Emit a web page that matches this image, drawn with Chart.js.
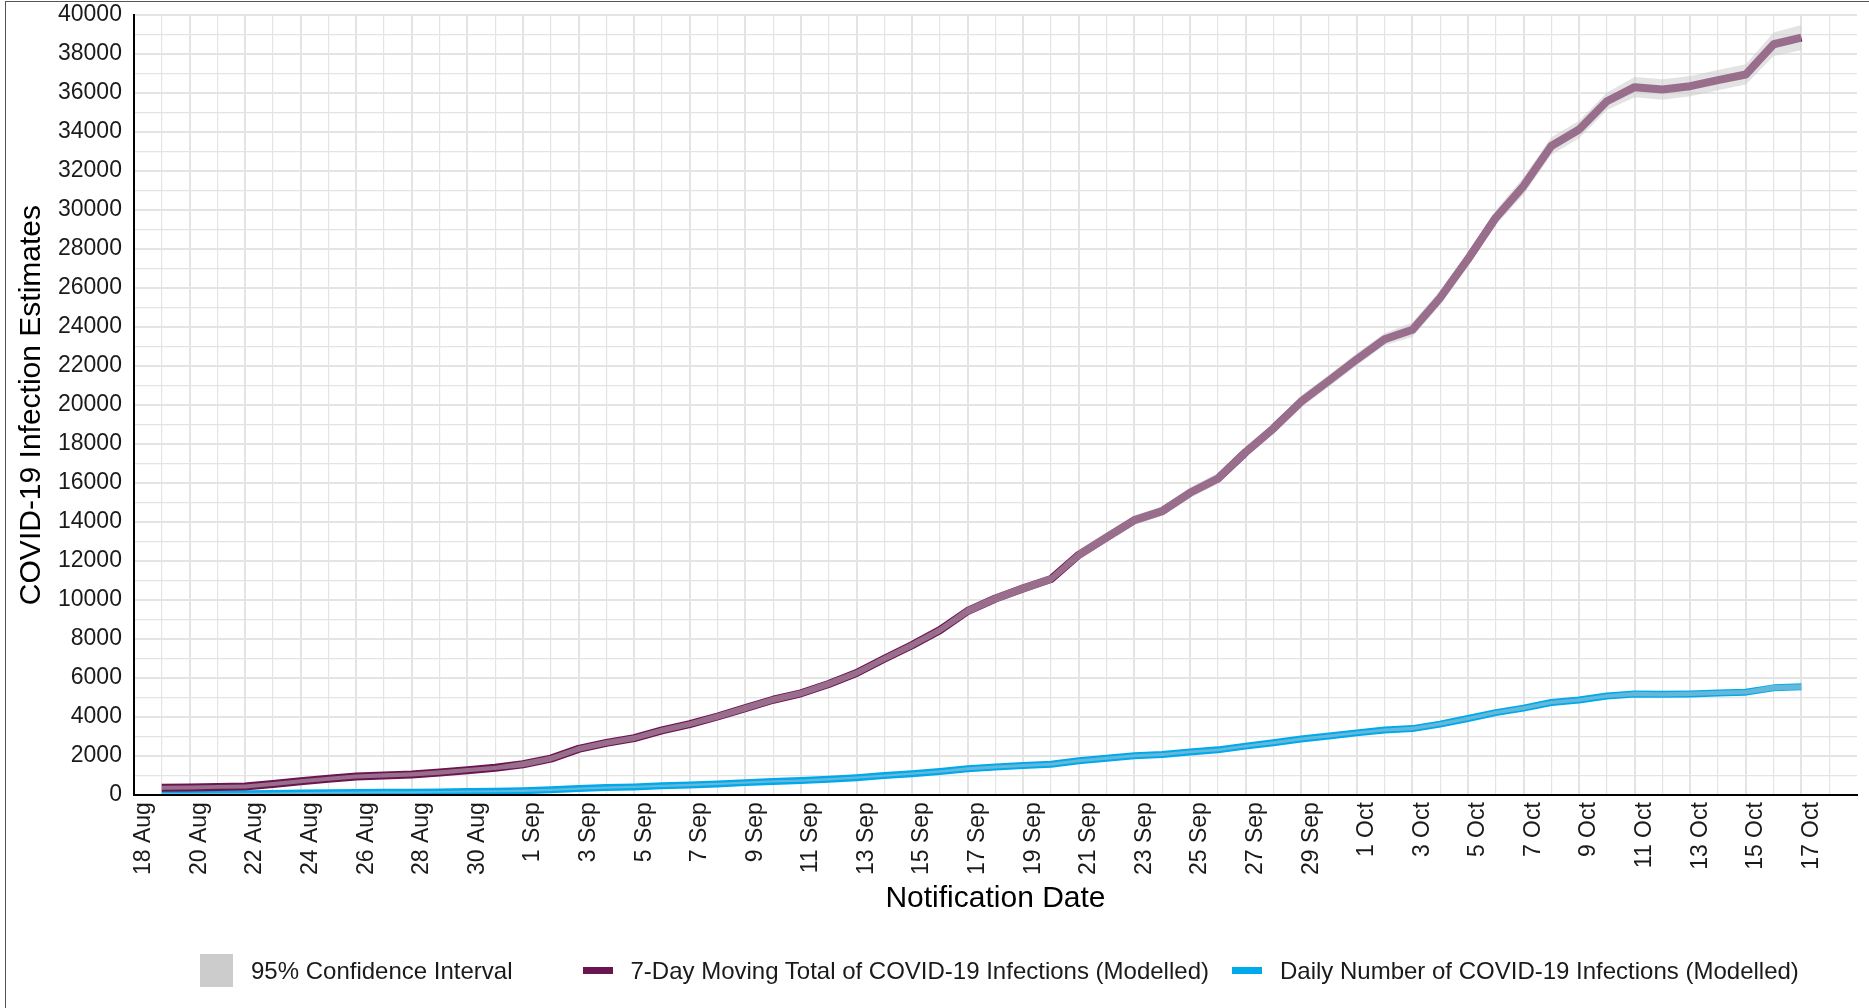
<!DOCTYPE html>
<html>
<head>
<meta charset="utf-8">
<title>COVID-19 Infection Estimates</title>
<script src="https://cdn.jsdelivr.net/npm/chart.js@4.4.1/dist/chart.umd.min.js"></script>
<style>
html, body { margin: 0; padding: 0; background: #fff; overflow: hidden; }
#wrap { position: relative; width: 1869px; height: 1008px; }
#frame { position: absolute; left: 5px; top: 1px; right: 0; bottom: 0; border-left: 1px solid #555; border-top: 1px solid #555; pointer-events: none; }
#legend { position: absolute; left: 200px; top: 954px; height: 33px; display: flex; align-items: center;
  font-family: "Liberation Sans", Arial, sans-serif; font-size: 24px; color: #1a1a1a; white-space: nowrap; }
#legend .lab { margin-left: 18px; }
</style>
</head>
<body>
<div id="wrap">
  <canvas id="infections" width="1869" height="1008"></canvas>
  <div id="frame"></div>
  <div id="legend"></div>
</div>
<script>
// x categories: one per day, 18 Aug .. 19 Oct (labels shown every 2nd day up to 17 Oct)
var dates = ['18 Aug','19 Aug','20 Aug','21 Aug','22 Aug','23 Aug','24 Aug','25 Aug','26 Aug','27 Aug','28 Aug','29 Aug','30 Aug','31 Aug',
  '1 Sep','2 Sep','3 Sep','4 Sep','5 Sep','6 Sep','7 Sep','8 Sep','9 Sep','10 Sep','11 Sep','12 Sep','13 Sep','14 Sep','15 Sep',
  '16 Sep','17 Sep','18 Sep','19 Sep','20 Sep','21 Sep','22 Sep','23 Sep','24 Sep','25 Sep','26 Sep','27 Sep','28 Sep','29 Sep','30 Sep',
  '1 Oct','2 Oct','3 Oct','4 Oct','5 Oct','6 Oct','7 Oct','8 Oct','9 Oct','10 Oct','11 Oct','12 Oct','13 Oct','14 Oct','15 Oct',
  '16 Oct','17 Oct','18 Oct','19 Oct'];
var lastLabelled = 60; // 17 Oct

// series run 19 Aug .. 17 Oct
var movingTotal = [380,390,420,440,570,710,840,950,1010,1060,1160,1280,1400,
  1580,1870,2370,2680,2920,3320,3640,4030,4460,4890,5220,5700,6260,6990,7690,
  8460,9440,10080,10600,11080,12320,13220,14100,14560,15500,16230,17580,18800,20180,21250,
  22340,23370,23860,25500,27480,29600,31230,33280,34130,35580,36300,36180,36350,36660,36950,
  38500,38840];
var movingTotalLow = [280,290,320,340,465,605,735,845,900,950,1050,1170,1290,
  1430,1720,2220,2530,2770,3170,3490,3860,4290,4720,5050,5530,6090,6820,7520,
  8290,9230,9870,10390,10870,12080,12980,13860,14320,15230,15960,17310,18530,19870,20940,
  22030,23060,23490,25130,27110,29230,30780,32830,33680,35130,35780,35660,35830,36140,36430,
  37900,38190];
var movingTotalHigh = [480,490,520,540,675,815,945,1055,1120,1170,1270,1390,1510,
  1730,2020,2520,2830,3070,3470,3790,4200,4630,5060,5390,5870,6430,7160,7860,
  8630,9650,10290,10810,11290,12560,13460,14340,14800,15770,16500,17850,19070,20490,21560,
  22650,23680,24230,25870,27850,29970,31680,33730,34580,36030,36820,36700,36870,37180,37470,
  39100,39490];

var daily = [60,60,65,70,85,105,120,135,145,150,165,185,200,
  225,270,335,385,420,475,520,575,640,700,745,815,895,1000,1100,
  1210,1350,1440,1515,1585,1760,1890,2015,2080,2215,2320,2510,2685,2880,3035,
  3190,3340,3410,3640,3925,4230,4460,4750,4880,5080,5185,5170,5190,5240,5280,
  5500,5550];
var dailyLow = [10,10,15,20,35,55,70,85,95,100,115,135,150,
  165,210,275,325,360,415,460,515,580,640,685,755,835,940,1040,
  1150,1275,1365,1440,1510,1685,1815,1940,2005,2140,2245,2435,2610,2805,2960,
  3115,3265,3320,3550,3835,4140,4370,4660,4790,4990,5075,5060,5080,5130,5170,
  5360,5410];
var dailyHigh = [110,110,115,120,135,155,170,185,195,200,215,235,250,
  285,330,395,445,480,535,580,635,700,760,805,875,955,1060,1160,
  1270,1425,1515,1590,1660,1835,1965,2090,2155,2290,2395,2585,2760,2955,3110,
  3265,3415,3500,3730,4015,4320,4550,4840,4970,5170,5295,5280,5300,5350,5390,
  5640,5690];

var seriesNames = ['95% Confidence Interval', '7-Day Moving Total of COVID-19 Infections (Modelled)', 'Daily Number of COVID-19 Infections (Modelled)'];
var ciColor = 'rgba(200, 200, 200, 0.5)';
var totalColor = '#6b1550';
var dailyColor = '#00a9ec';

// series start one day after the first category
function onDates(arr) {
  var out = [null];
  for (var i = 0; i < arr.length; i++) out.push(arr[i]);
  while (out.length < dates.length) out.push(null);
  return out;
}

function lineSet(label, arr, color, width, order) {
  return {
    label: label, data: onDates(arr), borderColor: color, borderWidth: width,
    pointRadius: 0, tension: 0, fill: false, order: order, clip: 0,
    borderJoinStyle: 'round', borderCapStyle: 'butt'
  };
}

function bandSet(label, arr, fillTo) {
  return {
    label: label, data: onDates(arr), borderColor: 'rgba(0,0,0,0)', borderWidth: 1,
    backgroundColor: ciColor, pointRadius: 0, tension: 0, fill: fillTo, order: 0, clip: 0
  };
}

function renderChart() {
  Chart.defaults.font.family = '"Liberation Sans", Arial, sans-serif';
  Chart.defaults.color = '#1a1a1a';
  var ctx = document.getElementById('infections').getContext('2d');
  var gridColor = '#e4e4e4';

  var chart = new Chart(ctx, {
    type: 'line',
    data: {
      labels: dates,
      datasets: [
        bandSet('total upper', movingTotalHigh, '+1'),
        bandSet('total lower', movingTotalLow, false),
        bandSet('daily upper', dailyHigh, '+1'),
        bandSet('daily lower', dailyLow, false),
        lineSet(seriesNames[1], movingTotal, totalColor, 8, 1),
        lineSet(seriesNames[2], daily, dailyColor, 7, 1)
      ]
    },
    options: {
      responsive: false,
      animation: false,
      devicePixelRatio: 1,
      layout: { padding: { left: 0, right: 12, top: 15, bottom: 91 } },
      plugins: { legend: { display: false }, tooltip: { enabled: false } },
      scales: {
        x: {
          ticks: {
            autoSkip: false, maxRotation: 90, minRotation: 90, padding: 7, labelOffset: 10,
            font: { size: 23 },
            callback: function(v, i) {
              if (i === dates.length - 1) return null;
              return (i % 2 === 0 && i <= lastLabelled) ? dates[i] : '';
            }
          },
          grid: {
            drawTicks: false, color: gridColor,
            lineWidth: function(c) {
              if (c.index === dates.length - 1) return 0;
              return c.index % 2 === 0 ? 2 : 1.2;
            }
          },
          border: { display: true, color: '#000', width: 2, z: 1 },
          title: { display: true, text: 'Notification Date', color: '#000', font: { size: 30 }, padding: { top: -1, bottom: 0 } }
        },
        y: {
          min: 0, max: 40000,
          ticks: {
            stepSize: 1000, autoSkip: false, maxTicksLimit: 60, padding: 0, font: { size: 23 },
            callback: function(v) { return v % 2000 === 0 ? String(v) : ''; }
          },
          grid: {
            drawTicks: true, tickLength: 12, tickColor: 'rgba(0,0,0,0)', color: gridColor,
            lineWidth: function(c) { return (c.tick && c.tick.value % 2000 === 0) ? 2 : 1.2; }
          },
          border: { display: true, color: '#000', width: 2, z: 1 },
          title: { display: true, text: 'COVID-19 Infection Estimates', color: '#000', font: { size: 30 }, padding: { top: 14, bottom: 8 } }
        }
      }
    }
  });
  return chart;
}

function buildLegend() {
  var keys = [
    { w: 33, h: 33, color: '#cccccc', gap: 0 },
    { w: 30, h: 7, color: totalColor, gap: 70 },
    { w: 30, h: 7, color: dailyColor, gap: 23 }
  ];
  var box = document.getElementById('legend');
  for (var i = 0; i < keys.length; i++) {
    var sw = document.createElement('span');
    sw.style.display = 'inline-block';
    sw.style.width = keys[i].w + 'px';
    sw.style.height = keys[i].h + 'px';
    sw.style.background = keys[i].color;
    sw.style.marginLeft = keys[i].gap + 'px';
    var lab = document.createElement('span');
    lab.className = 'lab';
    lab.textContent = seriesNames[i];
    box.appendChild(sw);
    box.appendChild(lab);
  }
}

renderChart();
buildLegend();
</script>
</body>
</html>
